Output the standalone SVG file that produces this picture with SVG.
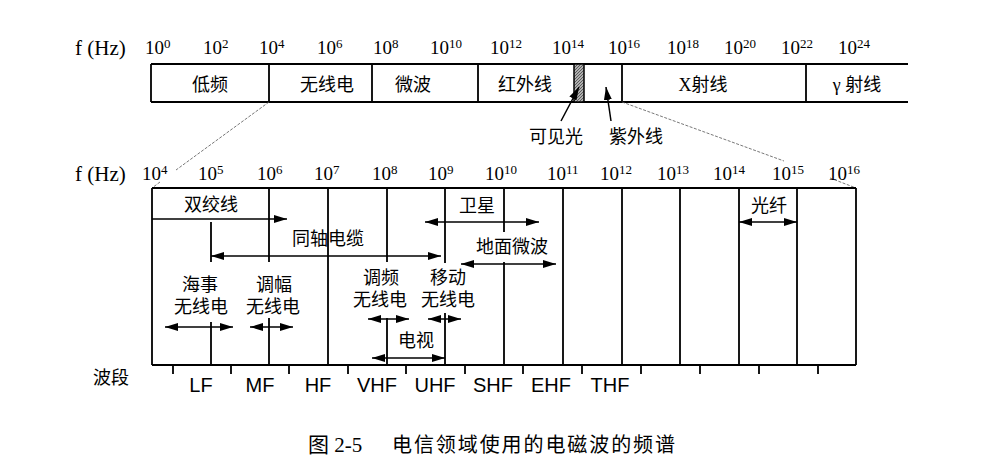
<svg xmlns="http://www.w3.org/2000/svg" width="995" height="465" viewBox="0 0 995 465">
<style>
.ln{stroke:#000;stroke-width:1.8;fill:none}
.ar{stroke:#000;stroke-width:1.5;fill:none}
.zm{stroke:#555;stroke-width:0.8;fill:none;stroke-dasharray:3 1.5}
.num{font-family:"Liberation Serif",serif;font-size:19px;fill:#000}
.fhz{font-family:"Liberation Serif",serif;font-size:21px;fill:#000}
.sup{font-size:13px}
.cn{font-family:"Noto Sans CJK SC",sans-serif;font-size:18px;fill:#000;text-anchor:middle}
.band{font-family:"Liberation Sans",sans-serif;font-size:20px;fill:#000;text-anchor:middle}
</style>
<defs>
<marker id="ah" markerUnits="userSpaceOnUse" markerWidth="14" markerHeight="8" refX="13" refY="4" orient="auto-start-reverse"><path d="M0,0 L13,4 L0,8 z" fill="#000"/></marker>
<pattern id="hatch" patternUnits="userSpaceOnUse" width="3" height="3"><rect width="3" height="3" fill="#b0b0b0"/><path d="M0,3 L3,0" stroke="#444" stroke-width="0.8"/></pattern>
</defs>
<rect width="995" height="465" fill="#fff"/>

<g id="top-axis">
<text class="fhz" x="75" y="55">f (Hz)</text>
<text class="num" x="145" y="54">10<tspan class="sup" dy="-6">0</tspan></text>
<text class="num" x="203" y="54">10<tspan class="sup" dy="-6">2</tspan></text>
<text class="num" x="259" y="54">10<tspan class="sup" dy="-6">4</tspan></text>
<text class="num" x="317" y="54">10<tspan class="sup" dy="-6">6</tspan></text>
<text class="num" x="373" y="54">10<tspan class="sup" dy="-6">8</tspan></text>
<text class="num" x="430" y="54">10<tspan class="sup" dy="-6">10</tspan></text>
<text class="num" x="490" y="54">10<tspan class="sup" dy="-6">12</tspan></text>
<text class="num" x="552" y="54">10<tspan class="sup" dy="-6">14</tspan></text>
<text class="num" x="608" y="54">10<tspan class="sup" dy="-6">16</tspan></text>
<text class="num" x="667" y="54">10<tspan class="sup" dy="-6">18</tspan></text>
<text class="num" x="724" y="54">10<tspan class="sup" dy="-6">20</tspan></text>
<text class="num" x="781" y="54">10<tspan class="sup" dy="-6">22</tspan></text>
<text class="num" x="838" y="54">10<tspan class="sup" dy="-6">24</tspan></text>
</g>

<g id="top-bar">
<path class="ln" d="M151,64 H908 M151,102 H908 M151,64 V102 M269,64 V102 M372,64 V102 M478,64 V102 M622,64 V102 M806,64 V102"/>
<rect x="574" y="64" width="10" height="38" fill="url(#hatch)" stroke="#000" stroke-width="1.5"/>
<text class="cn" x="210" y="91">低频</text>
<text class="cn" x="327" y="91">无线电</text>
<text class="cn" x="413" y="91">微波</text>
<text class="cn" x="525" y="91">红外线</text>
<text class="cn" x="703" y="91"><tspan font-family="Liberation Serif">X</tspan>射线</text>
<text class="cn" x="857" y="91"><tspan font-family="Liberation Serif">γ </tspan>射线</text>
</g>

<g id="visible-light">
<text class="cn" x="556" y="143">可见光</text>
</g>
<g id="ultraviolet">
<text class="cn" x="636" y="143">紫外线</text>
</g>

<g id="connectors">
<path class="ar" d="M561,121 L579,87" marker-end="url(#ah)"/>
<path class="ar" d="M611,121 L606,87" marker-end="url(#ah)"/>
<path class="zm" d="M269,102 L176,170 M160,182 L152,188"/>
<path class="zm" d="M622,102 L784,161 M830,178 L856,188"/>
</g>

<g id="bottom-axis">
<text class="fhz" x="75" y="181">f (Hz)</text>
<text class="num" x="142" y="180" font-size="18">10<tspan class="sup" dy="-6">4</tspan></text>
<text class="num" x="198" y="180" font-size="18">10<tspan class="sup" dy="-6">5</tspan></text>
<text class="num" x="257" y="180" font-size="18">10<tspan class="sup" dy="-6">6</tspan></text>
<text class="num" x="314" y="180" font-size="18">10<tspan class="sup" dy="-6">7</tspan></text>
<text class="num" x="372" y="180" font-size="18">10<tspan class="sup" dy="-6">8</tspan></text>
<text class="num" x="428" y="180" font-size="18">10<tspan class="sup" dy="-6">9</tspan></text>
<text class="num" x="485" y="180" font-size="18">10<tspan class="sup" dy="-6">10</tspan></text>
<text class="num" x="547" y="180" font-size="18">10<tspan class="sup" dy="-6">11</tspan></text>
<text class="num" x="600" y="180" font-size="18">10<tspan class="sup" dy="-6">12</tspan></text>
<text class="num" x="657" y="180" font-size="18">10<tspan class="sup" dy="-6">13</tspan></text>
<text class="num" x="713" y="180" font-size="18">10<tspan class="sup" dy="-6">14</tspan></text>
<text class="num" x="772" y="180" font-size="18">10<tspan class="sup" dy="-6">15</tspan></text>
<text class="num" x="828" y="180" font-size="18">10<tspan class="sup" dy="-6">16</tspan></text>
</g>

<g id="bottom-box">
<path class="ln" d="M152,188 H856 M152,365 H856 M152,188 V365 M856,188 V365
M211,222 V262 M211,322 V365
M269,188 V262 M269,318 V365
M328,188 V365
M387,188 V262 M387,318 V365
M445,188 V263 M445,313 V365
M504,188 V232 M504,262 V365
M563,188 V365 M622,188 V365 M680,188 V365 M739,188 V365 M797,188 V365"/>
<path class="ln" stroke-width="1.5" d="M173,365 V374 M231,365 V374 M289,365 V374 M348,365 V374 M406,365 V374 M465,365 V374 M523,365 V374 M582,365 V374 M641,365 V374 M700,365 V374 M759,365 V374 M818,365 V374"/>
</g>

<g id="twisted-pair">
<text class="cn" x="211" y="211">双绞线</text>
<path class="ar" d="M152,219 H287" marker-end="url(#ah)"/>
</g>
<g id="satellite">
<text class="cn" x="477" y="212">卫星</text>
<path class="ar" d="M425,222 H539" marker-start="url(#ah)" marker-end="url(#ah)"/>
</g>
<g id="coax">
<text class="cn" x="328" y="245">同轴电缆</text>
<path class="ar" d="M211,256 H441" marker-start="url(#ah)" marker-end="url(#ah)"/>
</g>
<g id="terrestrial-microwave">
<text class="cn" x="512" y="253">地面微波</text>
<path class="ar" d="M461,264 H556" marker-start="url(#ah)" marker-end="url(#ah)"/>
</g>
<g id="maritime-radio">
<text class="cn" x="200" y="291">海事<tspan x="201" dy="22">无线电</tspan></text>
<path class="ar" d="M165,327 H233" marker-start="url(#ah)" marker-end="url(#ah)"/>
</g>
<g id="am-radio">
<text class="cn" x="274" y="291">调幅<tspan x="273" dy="22">无线电</tspan></text>
<path class="ar" d="M250,327 H293" marker-start="url(#ah)" marker-end="url(#ah)"/>
</g>
<g id="fm-radio">
<text class="cn" x="381" y="284">调频<tspan x="380" dy="22">无线电</tspan></text>
<path class="ar" d="M368,319 H409" marker-start="url(#ah)" marker-end="url(#ah)"/>
</g>
<g id="mobile-radio">
<text class="cn" x="448" y="284">移动<tspan x="448" dy="22">无线电</tspan></text>
<path class="ar" d="M428,319 H461" marker-start="url(#ah)" marker-end="url(#ah)"/>
</g>
<g id="tv">
<text class="cn" x="416" y="347">电视</text>
<path class="ar" d="M372,358 H445" marker-start="url(#ah)" marker-end="url(#ah)"/>
</g>
<g id="fiber">
<text class="cn" x="769" y="212">光纤</text>
<path class="ar" d="M739,222 H797" marker-start="url(#ah)" marker-end="url(#ah)"/>
</g>

<g id="bands">
<text class="cn" x="111" y="384">波段</text>
<text class="band" x="201" y="392">LF</text>
<text class="band" x="260" y="392">MF</text>
<text class="band" x="318" y="392">HF</text>
<text class="band" x="377" y="392">VHF</text>
<text class="band" x="435" y="392">UHF</text>
<text class="band" x="493" y="392">SHF</text>
<text class="band" x="551" y="392">EHF</text>
<text class="band" x="610" y="392">THF</text>
</g>

<g id="caption">
<text font-family="Liberation Serif, Noto Sans CJK SC, serif" font-size="21" x="308" y="452">图 2-5</text>
<text font-family="Noto Sans CJK SC, sans-serif" font-size="20" x="392" y="452" textLength="283">电信领域使用的电磁波的频谱</text>
</g>
</svg>
